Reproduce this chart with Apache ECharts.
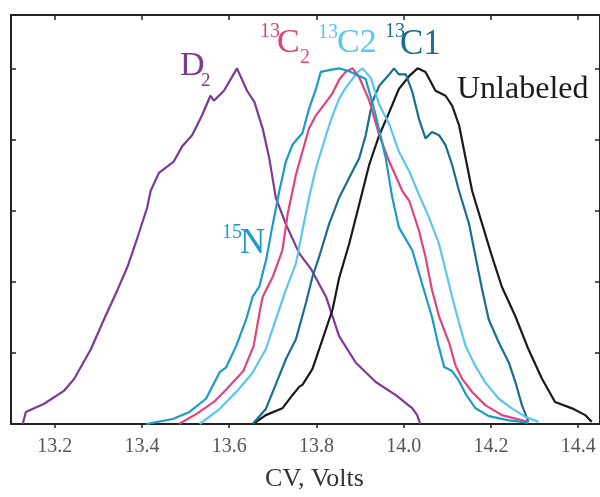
<!DOCTYPE html>
<html>
<head>
<meta charset="utf-8">
<script src="https://cdn.jsdelivr.net/npm/echarts@6/dist/echarts.min.js"></script>
<style>html,body{margin:0;padding:0;background:#fff;}#chart{width:600px;height:497px;}</style>
</head>
<body>
<div id="chart"></div>
<script>
// ---- data (CV in volts, normalized intensity) ----
const xTicks = [13.2, 13.4, 13.6, 13.8, 14.0, 14.2, 14.4];
const yTicks = [0.2, 0.4, 0.6, 0.8, 1.0];

const d2Cv  = [13.127,13.134,13.176,13.222,13.245,13.283,13.313,13.344,13.367,13.390,13.412,13.420,13.439,13.473,13.492,13.515,13.538,13.557,13.565,13.588,13.618,13.641,13.658,13.677,13.692,13.707,13.730,13.761,13.787,13.822,13.852,13.890,13.936,13.982,14.020,14.031,14.038];
const d2Int = [0,0.034,0.057,0.094,0.127,0.210,0.294,0.377,0.442,0.525,0.608,0.655,0.706,0.738,0.780,0.812,0.868,0.923,0.909,0.937,1.000,0.937,0.905,0.830,0.747,0.636,0.562,0.479,0.437,0.358,0.247,0.173,0.118,0.081,0.044,0.025,0];

const n15Cv  = [13.410,13.471,13.509,13.547,13.578,13.593,13.616,13.639,13.654,13.669,13.685,13.700,13.715,13.730,13.745,13.768,13.783,13.799,13.810,13.829,13.852,13.875,13.913,13.936,13.959,13.974,13.989,14.020,14.042,14.065,14.080,14.093,14.110,14.125,14.142,14.164,14.195,14.241,14.286];
const n15Int = [0,0.014,0.034,0.071,0.145,0.159,0.219,0.294,0.358,0.386,0.463,0.562,0.655,0.738,0.785,0.818,0.886,0.942,0.990,0.995,1.000,0.992,0.970,0.868,0.747,0.636,0.553,0.488,0.395,0.300,0.220,0.160,0.150,0.125,0.085,0.045,0.022,0.010,0.004];

const c13_2Cv  = [13.485,13.527,13.565,13.595,13.633,13.656,13.671,13.677,13.700,13.722,13.734,13.753,13.768,13.783,13.799,13.822,13.837,13.852,13.867,13.883,13.898,13.921,13.944,13.967,13.997,14.013,14.035,14.050,14.065,14.081,14.104,14.119,14.134,14.157,14.187,14.225,14.256,14.286];
const c13_2Int = [0,0.030,0.062,0.099,0.150,0.219,0.322,0.358,0.414,0.488,0.590,0.701,0.766,0.831,0.868,0.905,0.930,0.968,0.990,1.000,0.975,0.910,0.812,0.738,0.655,0.627,0.544,0.470,0.377,0.303,0.229,0.164,0.127,0.090,0.053,0.025,0.015,0.006];

const c13c2Cv  = [13.532,13.578,13.623,13.654,13.684,13.707,13.730,13.753,13.768,13.783,13.799,13.822,13.837,13.852,13.867,13.895,13.906,13.925,13.944,13.967,13.989,14.013,14.035,14.058,14.081,14.096,14.111,14.127,14.142,14.164,14.187,14.218,14.248,14.279,14.309];
const c13c2Int = [0,0.042,0.099,0.145,0.210,0.294,0.377,0.451,0.544,0.636,0.719,0.812,0.868,0.914,0.945,0.990,1.000,0.972,0.898,0.843,0.766,0.710,0.645,0.581,0.507,0.433,0.358,0.284,0.219,0.164,0.117,0.071,0.044,0.020,0.006];

const c13c1Cv  = [13.654,13.684,13.715,13.730,13.753,13.776,13.791,13.806,13.829,13.852,13.875,13.898,13.913,13.928,13.944,13.967,13.978,13.989,14.005,14.020,14.035,14.050,14.065,14.081,14.096,14.111,14.127,14.150,14.165,14.180,14.195,14.218,14.241,14.256,14.271,14.286];
const c13c1Int = [0,0.042,0.136,0.182,0.238,0.340,0.414,0.469,0.562,0.636,0.692,0.747,0.812,0.905,0.951,0.983,1.000,0.983,0.983,0.933,0.858,0.803,0.821,0.812,0.784,0.729,0.655,0.562,0.469,0.377,0.294,0.229,0.173,0.118,0.053,0.006];

const unlCv  = [13.655,13.684,13.722,13.745,13.761,13.768,13.791,13.814,13.837,13.852,13.875,13.898,13.921,13.944,13.967,13.989,14.013,14.032,14.050,14.073,14.096,14.111,14.127,14.142,14.157,14.180,14.203,14.225,14.256,14.286,14.317,14.347,14.386,14.416,14.431];
const unlInt = [0,0.025,0.044,0.081,0.105,0.110,0.155,0.238,0.322,0.410,0.506,0.617,0.729,0.812,0.877,0.942,0.979,1.000,0.990,0.937,0.923,0.895,0.840,0.747,0.655,0.562,0.469,0.386,0.303,0.210,0.127,0.062,0.044,0.025,0.006];

// ---- chart ----
const zip = (xs, ys) => xs.map((x, i) => [x, ys[i]]);
const serif = '"Liberation Serif", "DejaVu Serif", serif';
const axisColor = '#222';

function line(name, xs, ys, color) {
  return {
    name, type: 'line', data: zip(xs, ys), showSymbol: false, symbol: 'none',
    lineStyle: { color, width: 2.2 }, itemStyle: { color }, z: 3
  };
}

function txt(x, y, text, size, color) {
  return {
    type: 'text', x, y, z: 10,
    style: { text, fill: color, font: size + 'px ' + serif, align: 'left', verticalAlign: 'middle' }
  };
}

const cPurple = '#7b3a96', cCyan = '#1a9cc6', cPink = '#e0447c', cLight = '#5cc6ee', cTeal = '#1b6d8f', cBlack = '#1a1a1a';

const chart = echarts.init(document.getElementById('chart'), null, { renderer: 'canvas' });
chart.setOption({
  animation: false,
  backgroundColor: '#fff',
  grid: { left: 11, top: 15, right: -1.6, bottom: 68, containLabel: false },
  xAxis: [
    {
      type: 'value', position: 'bottom', min: 13.1, max: 14.45,
      axisLine: { show: true, onZero: false, lineStyle: { color: axisColor, width: 2 } },
      axisTick: { show: true, inside: false, length: 4, customValues: xTicks, lineStyle: { color: axisColor, width: 1.5 } },
      axisLabel: { show: true, customValues: xTicks, formatter: v => v.toFixed(1), margin: 13,
        fontFamily: serif, fontSize: 20, color: '#555' },
      splitLine: { show: false },
      name: 'CV, Volts', nameLocation: 'middle', nameGap: 42,
      nameTextStyle: { fontFamily: serif, fontSize: 26, color: '#333', padding: [0, 0, 0, 18] }
    },
    {
      type: 'value', position: 'top', min: 13.1, max: 14.45,
      axisLine: { show: true, onZero: false, lineStyle: { color: axisColor, width: 2 } },
      axisTick: { show: true, inside: true, length: 5, customValues: xTicks, lineStyle: { color: axisColor, width: 1.5 } },
      axisLabel: { show: false }, splitLine: { show: false }
    }
  ],
  yAxis: [
    {
      type: 'value', position: 'left', min: 0, max: 1.15,
      axisLine: { show: true, onZero: false, lineStyle: { color: axisColor, width: 2 } },
      axisTick: { show: true, inside: true, length: 5, customValues: yTicks, lineStyle: { color: axisColor, width: 1.5 } },
      axisLabel: { show: false }, splitLine: { show: false }
    },
    {
      type: 'value', position: 'right', min: 0, max: 1.15,
      axisLine: { show: true, onZero: false, lineStyle: { color: axisColor, width: 2 } },
      axisTick: { show: true, inside: true, length: 5, customValues: yTicks, lineStyle: { color: axisColor, width: 1.5 } },
      axisLabel: { show: false }, splitLine: { show: false }
    }
  ],
  series: [
    line('D2', d2Cv, d2Int, cPurple),
    line('Unlabeled', unlCv, unlInt, cBlack),
    line('13C1', c13c1Cv, c13c1Int, cTeal),
    line('13C2', c13c2Cv, c13c2Int, cLight),
    line('13C₂', c13_2Cv, c13_2Int, cPink),
    line('15N', n15Cv, n15Int, cCyan)
  ],
  graphic: [
    txt(180, 66.5, 'D', 34, cPurple),
    txt(201, 81, '2', 19, cPurple),
    txt(222, 233, '15', 20, cCyan),
    txt(240, 243.5, 'N', 35, cCyan),
    txt(260, 31.5, '13', 20, cPink),
    txt(277, 43.5, 'C', 34, cPink),
    txt(300, 57.5, '2', 20, cPink),
    txt(318, 32.5, '13', 20, cLight),
    txt(337, 43.5, 'C2', 34, cLight),
    txt(385, 31.5, '13', 20, cTeal),
    txt(400, 44.5, 'C1', 35, cTeal),
    txt(457, 90, 'Unlabeled', 32, cBlack)
  ]
});
</script>
</body>
</html>
